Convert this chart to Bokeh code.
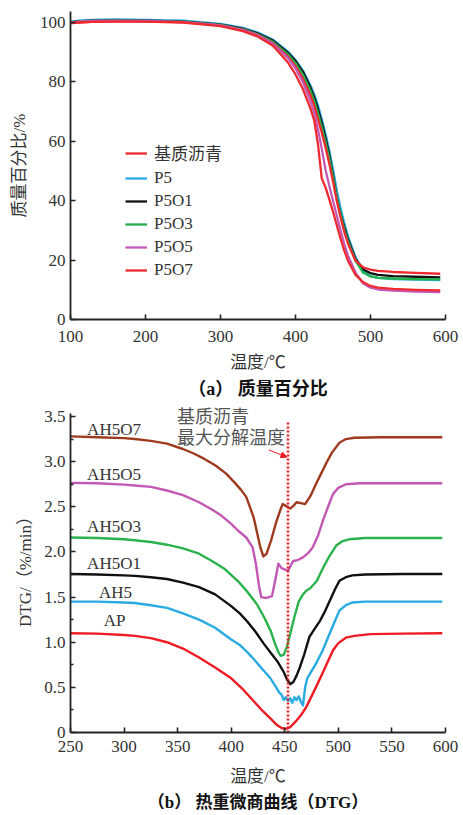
from bokeh.plotting import figure
from bokeh.models import (Range1d, FixedTicker, Legend, LegendItem, Label,
                          Arrow, NormalHead, Title)
from bokeh.layouts import column
from bokeh.embed import file_html
from bokeh.resources import INLINE

SERIF = "Liberation Serif, Noto Sans CJK SC"
TEXT = "#333333"

# ---------------- (a) thermogravimetric mass percentage ----------------
tg_temp = [100, 110, 130, 160, 200, 250, 300, 330, 350, 370, 390, 400, 410, 420,
           425, 430, 435, 440, 445, 450, 455, 460, 465, 470, 480, 490, 500, 510,
           530, 560, 593]
tg_base = [99.8, 100.0, 100.3, 100.4, 100.4, 100.1, 99.0, 97.5, 95.8, 93.0, 88.5,
           85.3, 81.0, 75.5, 72.0, 67.5, 63.0, 58.0, 52.5, 46.5, 40.0, 34.5, 29.5,
           25.5, 19.8, 17.6, 16.8, 16.4, 16.0, 15.7, 15.4]
tg_p5 = [100.2, 100.6, 100.9, 101.0, 100.9, 100.6, 99.5, 98.2, 96.6, 94.2, 90.2,
         87.4, 83.8, 78.8, 75.8, 72.0, 67.5, 62.5, 57.0, 50.5, 43.5, 37.5, 32.5,
         28.0, 21.0, 16.3, 14.6, 14.0, 13.6, 13.4, 13.3]
tg_p5o1 = [100.0, 100.4, 100.6, 100.7, 100.6, 100.3, 99.3, 97.9, 96.3, 93.9, 89.8,
           87.0, 83.3, 78.0, 74.8, 70.8, 66.2, 61.0, 55.5, 48.5, 41.0, 35.5, 31.0,
           27.0, 20.3, 16.9, 15.6, 15.0, 14.6, 14.4, 14.2]
tg_p5o3 = [100.0, 100.3, 100.5, 100.6, 100.5, 100.2, 99.2, 97.7, 96.0, 93.5, 89.3,
           86.3, 82.4, 77.0, 73.6, 69.5, 64.8, 59.8, 54.3, 47.8, 41.0, 35.3, 30.3,
           26.3, 19.8, 15.8, 14.5, 14.0, 13.8, 13.6, 13.5]
tg_p5o5 = [100.0, 100.3, 100.5, 100.6, 100.5, 100.1, 99.0, 97.4, 95.6, 92.8, 88.0,
           84.5, 79.8, 73.5, 69.5, 64.0, 57.5, 50.5, 45.0, 40.0, 35.0, 30.0, 25.5,
           21.5, 15.8, 12.2, 10.7, 10.1, 9.7, 9.4, 9.2]
tg_p5o7 = [99.8, 100.0, 100.2, 100.3, 100.3, 100.0, 98.8, 97.1, 95.2, 92.2, 86.5,
           82.5, 77.5, 71.0, 67.0, 59.0, 47.5, 44.5, 40.5, 36.3, 31.8, 27.3, 23.2,
           19.8, 15.0, 12.6, 11.3, 10.7, 10.3, 10.0, 9.8]
tg_names = ["基质沥青", "P5", "P5O1", "P5O3", "P5O5", "P5O7"]
tg_colors = ["#ee2a2f", "#2aaae2", "#111111", "#22b04b", "#c25ab6", "#ee2a2f"]
tg_x_ticks = [100, 200, 300, 400, 500, 600]
tg_y_ticks = [0, 20, 40, 60, 80, 100]

# ---------------- (b) DTG curves ----------------
ap_t = [250, 275, 300, 310, 325, 340, 355, 370, 385, 400, 410, 420, 430, 437, 443,
        447, 451, 455, 460, 465, 470, 477, 485, 490, 495, 500, 507, 515, 530, 560,
        597]
ap_v = [1.10, 1.095, 1.08, 1.07, 1.045, 1.00, 0.93, 0.83, 0.72, 0.60, 0.49, 0.36,
        0.23, 0.15, 0.08, 0.05, 0.04, 0.06, 0.12, 0.19, 0.28, 0.45, 0.65, 0.78,
        0.91, 0.99, 1.05, 1.07, 1.09, 1.095, 1.10]
ah5_t = [250, 275, 300, 310, 325, 340, 355, 370, 385, 400, 408, 415, 422, 430, 436,
         442, 445, 447, 449, 451, 453, 455, 457, 459, 461, 463, 465, 467, 469, 471,
         474, 479, 485, 492, 497, 501, 507, 513, 525, 560, 597]
ah5_v = [1.45, 1.45, 1.44, 1.435, 1.41, 1.38, 1.32, 1.25, 1.16, 1.03, 0.97, 0.89,
         0.80, 0.69, 0.61, 0.50, 0.44, 0.42, 0.36, 0.39, 0.35, 0.38, 0.33, 0.39,
         0.36, 0.40, 0.34, 0.30, 0.50, 0.60, 0.66, 0.76, 0.90, 1.10, 1.24, 1.35,
         1.41, 1.44, 1.45, 1.45, 1.45]
ah5o1_t = [250, 275, 300, 310, 325, 340, 355, 370, 385, 400, 408, 415, 423, 430,
           437, 443, 449, 452, 455, 458, 461, 464, 468, 473, 478, 483, 487, 492,
           497, 501, 507, 513, 525, 560, 597]
ah5o1_v = [1.755, 1.75, 1.74, 1.735, 1.72, 1.70, 1.66, 1.61, 1.53, 1.40, 1.32, 1.23,
           1.11, 0.99, 0.88, 0.79, 0.67, 0.59, 0.535, 0.56, 0.63, 0.72, 0.86, 1.06,
           1.15, 1.24, 1.33, 1.46, 1.59, 1.68, 1.72, 1.74, 1.75, 1.755, 1.755]
ah5o3_t = [250, 275, 300, 310, 325, 340, 355, 370, 382, 394, 406, 415, 424, 431,
           437, 441, 444, 446, 449, 452, 455, 459, 463, 467, 470, 474, 480, 486,
           492, 498, 504, 510, 525, 560, 597]
ah5o3_v = [2.16, 2.155, 2.14, 2.13, 2.11, 2.08, 2.04, 1.98, 1.90, 1.81, 1.68, 1.56,
           1.42, 1.27, 1.12, 0.98, 0.89, 0.85, 0.86, 0.95, 1.09, 1.28, 1.45, 1.53,
           1.57, 1.60, 1.68, 1.83, 1.96, 2.07, 2.12, 2.14, 2.155, 2.155, 2.155]
ah5o5_t = [250, 275, 300, 310, 325, 340, 355, 370, 382, 391, 400, 406, 414, 420,
           423, 426, 428, 433, 438, 441, 444, 447, 453, 456, 458, 462, 467, 472,
           476, 481, 486, 491, 495, 500, 507, 520, 560, 597]
ah5o5_v = [2.765, 2.76, 2.745, 2.735, 2.72, 2.68, 2.63, 2.55, 2.47, 2.40, 2.31,
           2.24, 2.16, 2.05, 1.87, 1.62, 1.50, 1.49, 1.51, 1.68, 1.87, 1.82, 1.79,
           1.86, 1.90, 1.91, 1.94, 1.99, 2.05, 2.18, 2.36, 2.52, 2.64, 2.71, 2.75,
           2.76, 2.76, 2.76]
ah5o7_t = [250, 275, 300, 310, 325, 340, 355, 365, 375, 385, 395, 403, 409, 414,
           418, 421, 424, 427, 430, 433, 437, 442, 446, 448, 451, 455, 458, 461,
           465, 469, 474, 479, 484, 489, 494, 501, 507, 515, 540, 597]
ah5o7_v = [3.28, 3.27, 3.26, 3.25, 3.23, 3.20, 3.14, 3.09, 3.03, 2.96, 2.87, 2.77,
           2.69, 2.61, 2.48, 2.38, 2.22, 2.06, 1.95, 1.98, 2.12, 2.33, 2.47, 2.53,
           2.51, 2.48, 2.51, 2.55, 2.54, 2.53, 2.62, 2.75, 2.87, 2.99, 3.10, 3.21,
           3.25, 3.265, 3.27, 3.27]
dtg_names = ["AP", "AH5", "AH5O1", "AH5O3", "AH5O5", "AH5O7"]
dtg_colors = ["#ed1c24", "#29abe2", "#111111", "#2bb24c", "#c158b4", "#9e3b1e"]
# label anchor (left edge temperature, vertical value) for each curve name
dtg_label_t = [281, 276.5, 265.5, 265.5, 265.5, 265.5]
dtg_label_v = [1.24, 1.55, 1.87, 2.28, 2.86, 3.36]
peak_temp = 453          # maximum decomposition temperature of the base asphalt
dtg_x_ticks = [250, 300, 350, 400, 450, 500, 550, 600]
dtg_y_ticks = [0, 0.5, 1.0, 1.5, 2.0, 2.5, 3.0, 3.5]
dtg_y_minor = [0.25, 0.75, 1.25, 1.75, 2.25, 2.75, 3.25]


def style_axes(p):
    for ax in (p.xaxis[0], p.yaxis[0]):
        ax.axis_line_width = 1.8
        ax.axis_line_color = "#222222"
        ax.major_tick_in = 5
        ax.major_tick_out = 0
        ax.major_tick_line_width = 1.6
        ax.major_tick_line_color = "#222222"
        ax.minor_tick_in = 3
        ax.minor_tick_out = 0
        ax.minor_tick_line_width = 1.4
        ax.minor_tick_line_color = "#222222"
        ax.major_label_text_font = SERIF
        ax.major_label_text_font_size = "17px"
        ax.major_label_text_color = TEXT
        ax.major_label_standoff = 5
        ax.axis_label_text_font = SERIF
        ax.axis_label_text_font_size = "17px"
        ax.axis_label_text_font_style = "normal"
        ax.axis_label_text_color = TEXT
    p.xgrid.visible = False
    p.ygrid.visible = False
    p.outline_line_color = None
    p.background_fill_color = "white"
    p.border_fill_color = "white"


def caption(text, size, standoff):
    return Title(text=text, align="center", standoff=standoff, text_font=SERIF,
                 text_font_size=size, text_font_style="bold",
                 text_color="#111111")


# ---------- figure (a) ----------
p1 = figure(width=463, height=402, output_backend="svg", toolbar_location=None,
            x_range=Range1d(100, 600), y_range=Range1d(0, 103.7),
            min_border_left=70, min_border_right=13, min_border_top=11,
            min_border_bottom=83)
style_axes(p1)
p1.xaxis[0].ticker = FixedTicker(ticks=tg_x_ticks)
p1.yaxis[0].ticker = FixedTicker(ticks=tg_y_ticks)
p1.xaxis[0].axis_label = "温度/℃"
p1.yaxis[0].axis_label = "质量百分比/%"
p1.xaxis[0].major_label_standoff = 11
p1.xaxis[0].axis_label_standoff = 8
p1.yaxis[0].axis_label_standoff = 8

tg_series = [tg_base, tg_p5, tg_p5o1, tg_p5o3, tg_p5o5, tg_p5o7]
draw_order = [1, 2, 3, 0, 4, 5]
renderers = {}
for i in draw_order:
    renderers[i] = p1.line(tg_temp, tg_series[i], color=tg_colors[i],
                           line_width=2.3, line_join="round")
legend = Legend(items=[LegendItem(label=tg_names[i], renderers=[renderers[i]])
                       for i in range(len(tg_names))],
                location=(55, 39), padding=0, margin=0, spacing=3,
                glyph_width=22, glyph_height=20, label_height=20,
                label_standoff=7, label_text_font=SERIF,
                label_text_font_size="17px", label_text_color=TEXT,
                background_fill_alpha=0, border_line_color=None)
p1.add_layout(legend)
p1.add_layout(caption("（a） 质量百分比", "18px", 4), "below")

# ---------- figure (b) ----------
# the frame reaches the top edge so the annotation text has room; the
# y axis line itself stops just above 3.5
p2 = figure(width=463, height=413, output_backend="svg", toolbar_location=None,
            x_range=Range1d(250, 600), y_range=Range1d(0, 3.655),
            min_border_left=63, min_border_right=18, min_border_top=0,
            min_border_bottom=83)
style_axes(p2)
p2.yaxis[0].bounds = (0, 3.53)
p2.xaxis[0].ticker = FixedTicker(ticks=dtg_x_ticks)
p2.yaxis[0].ticker = FixedTicker(ticks=dtg_y_ticks, minor_ticks=dtg_y_minor)
p2.yaxis[0].major_label_overrides = {0: "0", 0.5: "0.5", 1.0: "1.0", 1.5: "1.5",
                                     2.0: "2.0", 2.5: "2.5", 3.0: "3.0", 3.5: "3.5"}
p2.xaxis[0].axis_label = "温度/℃"
p2.yaxis[0].axis_label = "DTG/（%/min）"
p2.xaxis[0].major_label_standoff = 8
p2.xaxis[0].axis_label_standoff = 12
p2.yaxis[0].axis_label_standoff = 6

dtg_series = [(ap_t, ap_v), (ah5_t, ah5_v), (ah5o1_t, ah5o1_v),
              (ah5o3_t, ah5o3_v), (ah5o5_t, ah5o5_v), (ah5o7_t, ah5o7_v)]
for (t, v), c in zip(dtg_series, dtg_colors):
    p2.line(t, v, color=c, line_width=2.4, line_join="round")

for name, lt, lv in zip(dtg_names, dtg_label_t, dtg_label_v):
    p2.add_layout(Label(x=lt, y=lv, text=name, text_font=SERIF,
                        text_font_size="17px", text_color=TEXT,
                        text_baseline="middle", text_align="left"))

# dotted marker of the base asphalt peak temperature
p2.segment(x0=[peak_temp], y0=[0], x1=[peak_temp], y1=[3.45],
           line_color="#ee1c25", line_width=2.6, line_dash="2 2")
p2.add_layout(Label(x=349.5, y=3.49, text="基质沥青", text_font=SERIF,
                    text_font_size="18px", text_color="#555555",
                    text_baseline="middle"))
p2.add_layout(Label(x=349.5, y=3.26, text="最大分解温度", text_font=SERIF,
                    text_font_size="18px", text_color="#555555",
                    text_baseline="middle"))
p2.add_layout(Arrow(end=NormalHead(size=6, fill_color="#ee1c25",
                                   line_color="#ee1c25"),
                    x_start=435, y_start=3.13, x_end=peak_temp - 1, y_end=3.05,
                    line_color="#ee1c25", line_width=1))
p2.add_layout(caption("（b） 热重微商曲线（DTG）", "17px", 4), "below")

layout = column(p1, p2, spacing=0)
open("out.html", "w").write(file_html(layout, INLINE))
